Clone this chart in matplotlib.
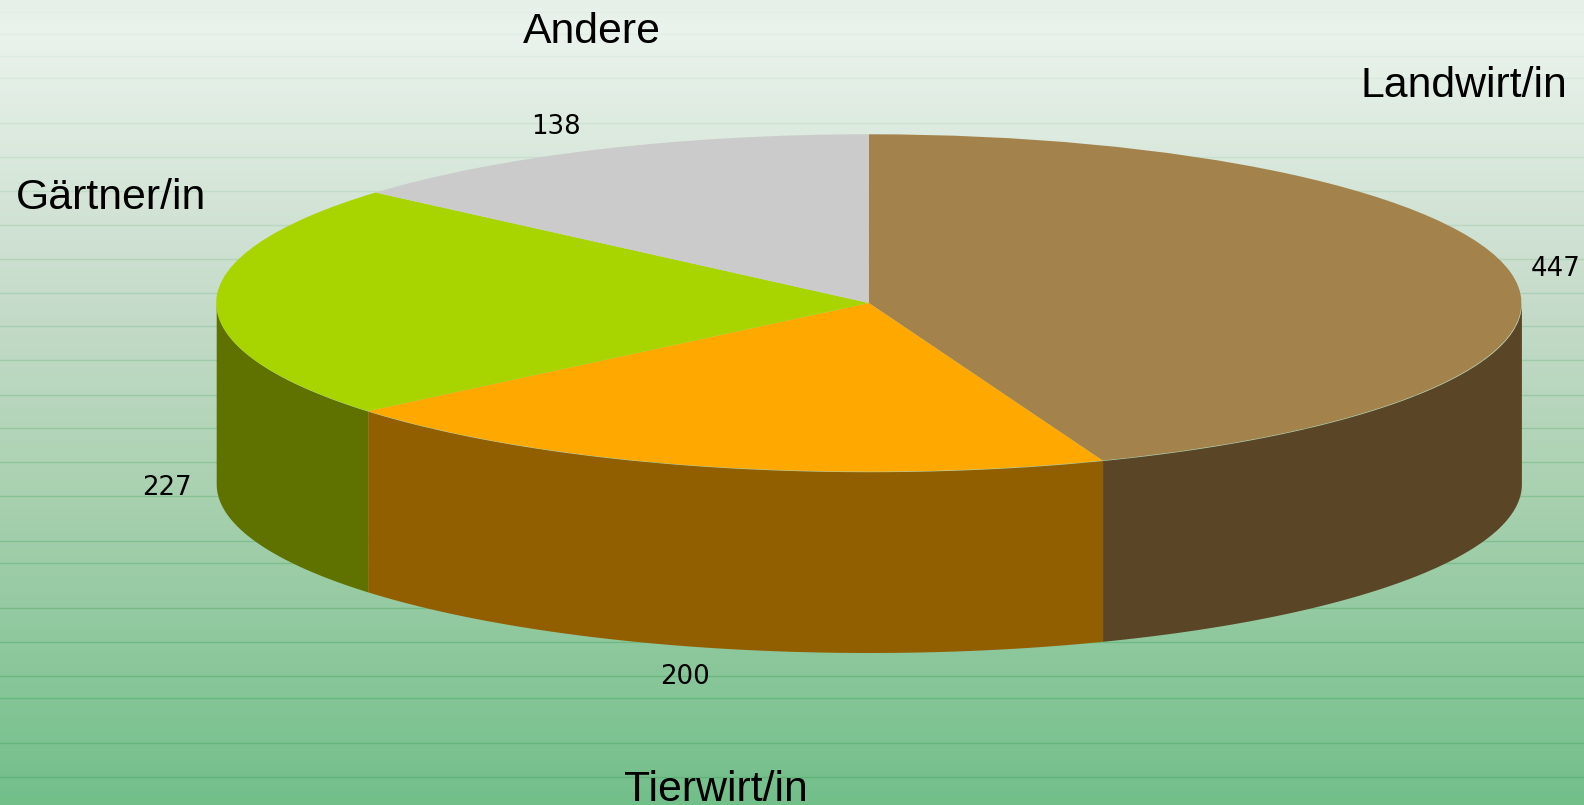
import numpy as np
import matplotlib
matplotlib.use('Agg')
import matplotlib.pyplot as plt
from matplotlib.colors import LinearSegmentedColormap

names = ['Landwirt/in', 'Tierwirt/in', 'Gärtner/in', 'Andere']
values = [447, 200, 227, 138]
topColors = ['#a3834b', '#ffa800', '#a8d500', '#cbcbcb']
sideColors = ['#5a4626', '#925f00', '#5f7200', '#cbcbcb']

# label positions in pixels, (x, baseline)
namePos = [(1360, 97), (624, 801), (16, 209), (523, 43)]
valuePos = [(1556, 276), (685, 684), (167, 495), (556, 134)]

# faint horizontal stripes of the background, pixel rows
stripeRows = [12, 34, 56, 78, 123, 157, 191, 225, 259, 293, 326, 360, 394, 427, 461, 495,
              540, 562, 607, 641, 675, 697, 742, 776]

W, H = 1584, 805
cx, cy = 868.8, 303
rx, ry = 652.6, 168.7
depth = 180.8

fig = plt.figure(figsize=(W/100, H/100), dpi=100)

#background gradient with pixel coords, text goes here too
bg = fig.add_axes([0, 0, 1, 1])
bg.set_xlim(0, W)
bg.set_ylim(H, 0)
bg.axis('off')
cmap = LinearSegmentedColormap.from_list('bg', [(0, '#e6efe8'), (0.04, '#eaf3ec'), (0.37, '#c7dccb'),
                                                (0.63, '#a7d0ae'), (1, '#72bf8a')])
bg.imshow(np.linspace(0, 1, 256).reshape(-1, 1), cmap=cmap, aspect='auto', extent=(0, W, H, 0))
for row in stripeRows:
    bg.axhline(row + 0.5, color='#4fa868', lw=1, alpha=0.02 + 0.55*row/H)
for name, pos in zip(names, namePos):
    bg.text(pos[0], pos[1], name, family='Liberation Sans', fontsize=30.8, color='black', va='baseline')
for val, pos in zip(values, valuePos):
    bg.text(pos[0], pos[1], str(val), family='DejaVu Sans', fontsize=18.7, color='black', ha='center', va='baseline')

#pie axes, one unit is the radius so the squash comes from the limits
ax = fig.add_axes([0, 0, 1, 1])
ax.patch.set_alpha(0)
wedges, _ = ax.pie(values, colors=topColors, startangle=90, counterclock=False, radius=1,
                   wedgeprops={'linewidth': 0, 'zorder': 3})
ax.set_aspect('auto')
ax.set_xlim(-cx/rx, (W - cx)/rx)
ax.set_ylim((cy - H)/ry, cy/ry)

#side walls, only the front half of the rim shows
angles = np.cumsum([0] + values)/sum(values)*360
for i in range(len(values)):
    start = max(angles[i], 90)
    end = min(angles[i + 1], 270)
    if end <= start:
        continue
    t = np.radians(np.linspace(start, end, 200))
    x = np.sin(t)
    y = np.cos(t)
    ax.fill_between(x, y, y - depth/ry, color=sideColors[i], linewidth=0, zorder=2)

fig.savefig('out.png', dpi=100)
